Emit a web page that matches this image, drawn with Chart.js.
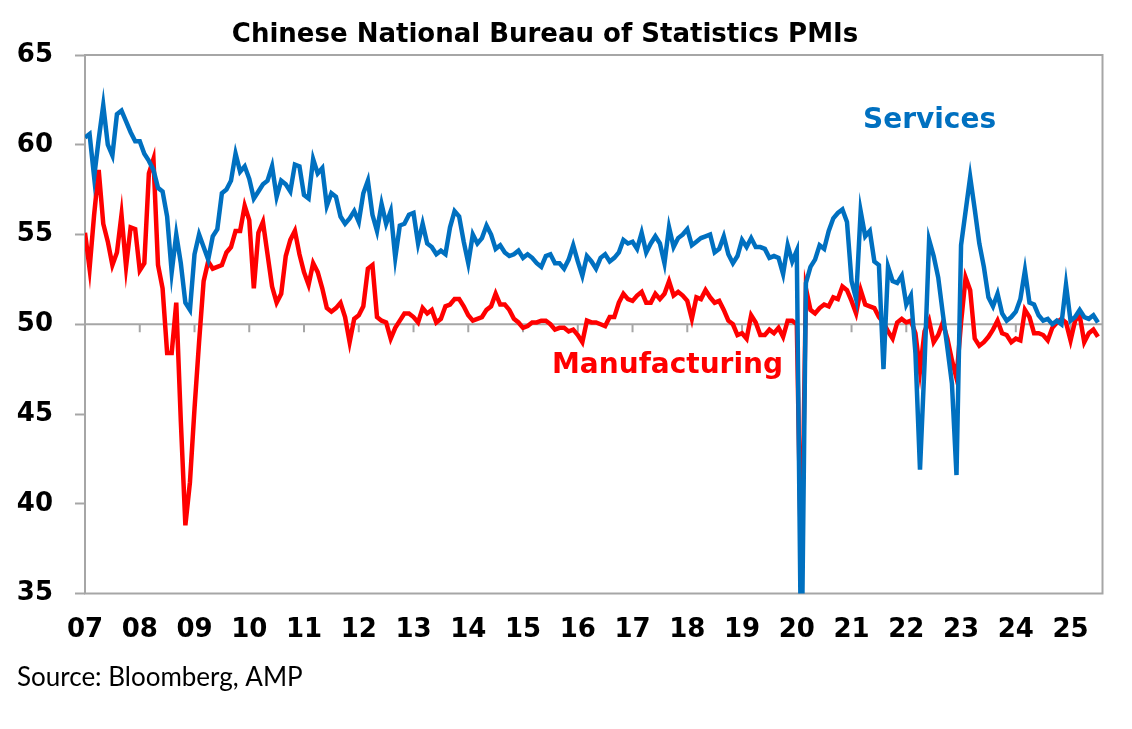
<!DOCTYPE html>
<html>
<head>
<meta charset="utf-8">
<title>Chinese National Bureau of Statistics PMIs</title>
<script src="https://cdn.jsdelivr.net/npm/chart.js@4.4.0/dist/chart.umd.min.js"></script>
<style>
  html, body { margin: 0; padding: 0; background: #fff; }
  #wrap { position: relative; width: 1132px; height: 729px; }
</style>
</head>
<body>
<div id="wrap"><canvas id="myChart"></canvas></div>
<script>
// monthly, Jan 2007 .. Jul 2025
const yearLabels = ['07','08','09','10','11','12','13','14','15','16','17','18','19','20','21','22','23','24','25'];

const services = [
  60.4, 60.6, 58.2, 60.3, 62.2, 60.0, 59.4, 61.7, 61.9, 61.3, 60.7, 60.2, // 2007
  60.2, 59.5, 59.1, 58.6, 57.6, 57.4, 56.0, 52.9, 55.0, 53.4, 51.2, 50.8, // 2008
  53.9, 55.0, 54.3, 53.6, 54.9, 55.3, 57.3, 57.5, 58.0, 59.5, 58.5, 58.8, // 2009
  58.1, 57.0, 57.4, 57.8, 58.0, 58.8, 57.1, 58.0, 57.8, 57.4, 58.9, 58.8, // 2010
  57.2, 57.0, 59.2, 58.4, 58.7, 56.6, 57.3, 57.1, 56.0, 55.6, 55.9, 56.3, // 2011
  55.7, 57.3, 58.0, 56.1, 55.2, 56.7, 55.6, 56.3, 53.7, 55.5, 55.6, 56.1, // 2012
  56.2, 54.5, 55.6, 54.5, 54.3, 53.9, 54.1, 53.9, 55.4, 56.3, 56.0, 54.6, // 2013
  53.4, 55.0, 54.5, 54.8, 55.5, 55.0, 54.2, 54.4, 54.0, 53.8, 53.9, 54.1, // 2014
  53.7, 53.9, 53.7, 53.4, 53.2, 53.8, 53.9, 53.4, 53.4, 53.1, 53.6, 54.4, // 2015
  53.5, 52.7, 53.8, 53.5, 53.1, 53.7, 53.9, 53.5, 53.7, 54.0, 54.7, 54.5, // 2016
  54.6, 54.2, 55.1, 54.0, 54.5, 54.9, 54.5, 53.4, 55.4, 54.3, 54.8, 55.0, // 2017
  55.3, 54.4, 54.6, 54.8, 54.9, 55.0, 54.0, 54.2, 54.9, 53.9, 53.4, 53.8, // 2018
  54.7, 54.3, 54.8, 54.3, 54.3, 54.2, 53.7, 53.8, 53.7, 52.8, 54.4, 53.5, // 2019
  54.1, 29.6, 52.3, 53.2, 53.6, 54.4, 54.2, 55.2, 55.9, 56.2, 56.4, 55.7, // 2020
  52.4, 51.4, 56.3, 54.9, 55.2, 53.5, 53.3, 47.5, 53.2, 52.4, 52.3, 52.7, // 2021
  51.1, 51.6, 48.4, 41.9, 47.8, 54.7, 53.8, 52.6, 50.6, 48.7, 46.7, 41.6, // 2022
  54.4, 56.3, 58.2, 56.4, 54.5, 53.2, 51.5, 51.0, 51.7, 50.6, 50.2, 50.4, // 2023
  50.7, 51.4, 53.0, 51.2, 51.1, 50.5, 50.2, 50.3, 50.0, 50.2, 50.0, 52.2, // 2024
  50.2, 50.4, 50.8, 50.4, 50.3, 50.5, 50.1                                // 2025
];

const manufacturing = [
  55.1, 53.1, 56.1, 58.6, 55.6, 54.6, 53.3, 54.0, 56.1, 53.2, 55.4, 55.3, // 2007
  53.0, 53.4, 58.4, 59.2, 53.3, 52.0, 48.4, 48.4, 51.2, 44.6, 38.8, 41.2, // 2008
  45.3, 49.0, 52.4, 53.5, 53.1, 53.2, 53.3, 54.0, 54.3, 55.2, 55.2, 56.6, // 2009
  55.8, 52.0, 55.1, 55.7, 53.9, 52.1, 51.2, 51.7, 53.8, 54.7, 55.2, 53.9, // 2010
  52.9, 52.2, 53.4, 52.9, 52.0, 50.9, 50.7, 50.9, 51.2, 50.4, 49.0, 50.3, // 2011
  50.5, 51.0, 53.1, 53.3, 50.4, 50.2, 50.1, 49.2, 49.8, 50.2, 50.6, 50.6, // 2012
  50.4, 50.1, 50.9, 50.6, 50.8, 50.1, 50.3, 51.0, 51.1, 51.4, 51.4, 51.0, // 2013
  50.5, 50.2, 50.3, 50.4, 50.8, 51.0, 51.7, 51.1, 51.1, 50.8, 50.3, 50.1, // 2014
  49.8, 49.9, 50.1, 50.1, 50.2, 50.2, 50.0, 49.7, 49.8, 49.8, 49.6, 49.7, // 2015
  49.4, 49.0, 50.2, 50.1, 50.1, 50.0, 49.9, 50.4, 50.4, 51.2, 51.7, 51.4, // 2016
  51.3, 51.6, 51.8, 51.2, 51.2, 51.7, 51.4, 51.7, 52.4, 51.6, 51.8, 51.6, // 2017
  51.3, 50.3, 51.5, 51.4, 51.9, 51.5, 51.2, 51.3, 50.8, 50.2, 50.0, 49.4, // 2018
  49.5, 49.2, 50.5, 50.1, 49.4, 49.4, 49.7, 49.5, 49.8, 49.3, 50.2, 50.2, // 2019
  50.0, 35.7, 52.0, 50.8, 50.6, 50.9, 51.1, 51.0, 51.5, 51.4, 52.1, 51.9, // 2020
  51.3, 50.6, 51.9, 51.1, 51.0, 50.9, 50.4, 50.1, 49.6, 49.2, 50.1, 50.3, // 2021
  50.1, 50.2, 49.5, 47.4, 49.6, 50.2, 49.0, 49.4, 50.1, 49.2, 48.0, 47.0, // 2022
  50.1, 52.6, 51.9, 49.2, 48.8, 49.0, 49.3, 49.7, 50.2, 49.5, 49.4, 49.0, // 2023
  49.2, 49.1, 50.8, 50.4, 49.5, 49.5, 49.4, 49.1, 49.8, 50.1, 50.3, 50.1, // 2024
  49.1, 50.2, 50.5, 49.0, 49.5, 49.7, 49.3                                // 2025
];

const yMin = 35, yMax = 65, yStep = 5;
const midLine = 50;

const BLUE = '#0070C0';
const RED = '#FF0000';
const GREY = '#a6a6a6';
const BOLD = '"DejaVu Sans", "Liberation Sans", Arial, sans-serif';

// frame, 50 line with year ticks, and text labels
const decorations = {
  id: 'decorations',
  beforeDatasetsDraw(chart) {
    const { ctx, chartArea: a, scales: { x, y } } = chart;
    ctx.save();
    ctx.strokeStyle = GREY;
    ctx.lineWidth = 2;
    ctx.strokeRect(a.left, a.top, a.right - a.left, a.bottom - a.top);
    const y50 = y.getPixelForValue(midLine);
    ctx.beginPath();
    ctx.moveTo(a.left, y50);
    ctx.lineTo(a.right, y50);
    for (let k = 1; k < yearLabels.length; k++) {
      const px = x.getPixelForValue(k * 12);
      ctx.moveTo(px, y50);
      ctx.lineTo(px, y50 + 8);
    }
    ctx.stroke();
    ctx.restore();
  },
  afterDraw(chart) {
    const ctx = chart.ctx;
    ctx.save();
    ctx.textBaseline = 'alphabetic';

    ctx.fillStyle = '#000';
    ctx.textAlign = 'center';
    ctx.font = 'bold 26px ' + BOLD;
    ctx.fillText('Chinese National Bureau of Statistics PMIs', 545, 42);

    ctx.textAlign = 'left';
    ctx.font = 'bold 28px ' + BOLD;
    ctx.fillStyle = BLUE;
    ctx.fillText('Services', 863, 128);
    ctx.fillStyle = RED;
    ctx.fillText('Manufacturing', 552, 373);

    ctx.fillStyle = '#000';
    ctx.font = '26px Lato, "Liberation Sans", sans-serif';
    ctx.fillText('Source: Bloomberg, AMP', 17, 686);
    ctx.restore();
  }
};

let ctx = document.getElementById('myChart').getContext('2d');
let myChart = new Chart(ctx, {
  type: 'line',
  data: {
    datasets: [{
      label: 'Services',
      data: services.map((v, i) => ({ x: i, y: v })),
      borderColor: BLUE,
      borderWidth: 4.5,
      pointRadius: 0,
      tension: 0,
      clip: 0
    }, {
      label: 'Manufacturing',
      data: manufacturing.map((v, i) => ({ x: i, y: v })),
      borderColor: RED,
      borderWidth: 4.5,
      pointRadius: 0,
      tension: 0,
      clip: 0
    }]
  },
  options: {
    responsive: true,
    maintainAspectRatio: false,
    animation: false,
    layout: { padding: { top: 55, right: 29.5, left: 0, bottom: 0 } },
    plugins: {
      legend: { display: false },
      tooltip: { enabled: false }
    },
    scales: {
      x: {
        type: 'linear',
        min: 0,
        max: services.length, // axis runs to the start of the next month
        grid: { display: false },
        border: { display: false },
        ticks: {
          stepSize: 12,
          includeBounds: false,
          autoSkip: false,
          maxRotation: 0,
          padding: 16,
          color: '#000',
          font: { family: BOLD, size: 26, weight: 'bold', lineHeight: 1 },
          callback: (v) => yearLabels[v / 12]
        },
        afterFit: (scale) => { scale.height = 135.5; }
      },
      y: {
        min: yMin,
        max: yMax,
        grid: {
          drawOnChartArea: false,
          tickLength: 10,
          tickColor: GREY,
          tickWidth: 2
        },
        border: { display: false },
        ticks: {
          stepSize: yStep,
          padding: 22,
          color: '#000',
          font: { family: BOLD, size: 26, weight: 'bold', lineHeight: 1 }
        },
        afterFit: (scale) => { scale.width = 85; }
      }
    }
  },
  plugins: [decorations]
});
</script>
</body>
</html>
